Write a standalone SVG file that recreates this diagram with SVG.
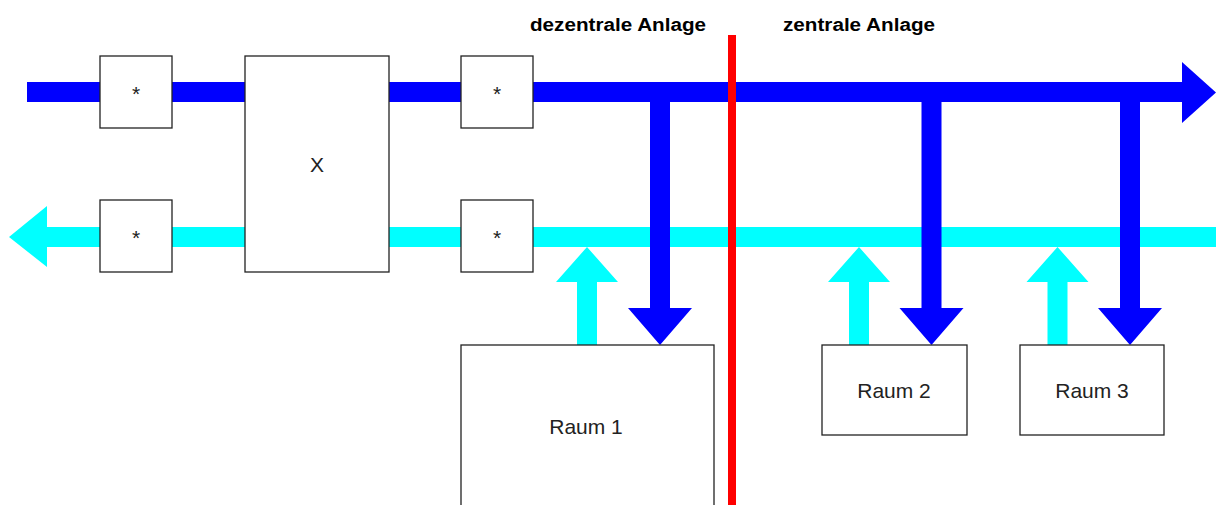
<svg xmlns="http://www.w3.org/2000/svg" width="1216" height="505" viewBox="0 0 1216 505">
<style>
.box{fill:#fff;stroke:#222;stroke-width:1.3}
.lbl{font-family:"Liberation Sans",Arial,sans-serif;font-size:21px;fill:#222;text-anchor:middle}
.hdr{font-family:"Liberation Sans",Arial,sans-serif;font-size:18px;font-weight:bold;fill:#000}
.cy{fill:#00ffff}
.bl{fill:#0000ff}
</style>
<rect width="1216" height="505" fill="#fff"/>
<g id="connectors">
  <path class="cy" d="M1216,227 L47,227 L47,206 L9,237 L47,267 L47,247 L1216,247 Z"/>
  <path class="cy" d="M577,345 L577,282 L556,282 L587,247 L618,282 L597,282 L597,345 Z"/>
  <path class="cy" d="M849,345 L849,282 L828,282 L859,247 L890,282 L869,282 L869,345 Z"/>
  <path class="cy" d="M1047.5,345 L1047.5,282 L1026.5,282 L1057.5,247 L1088.5,282 L1067.5,282 L1067.5,345 Z"/>
  <path class="bl" d="M27,82 L1182,82 L1182,62 L1216,92.5 L1182,123 L1182,102 L27,102 Z"/>
  <path class="bl" d="M650,92 L670,92 L670,308 L692,308 L660,345 L628,308 L650,308 Z"/>
  <path class="bl" d="M921.5,92 L941.5,92 L941.5,308 L963.5,308 L931.5,345 L899.5,308 L921.5,308 Z"/>
  <path class="bl" d="M1120,92 L1140,92 L1140,308 L1162,308 L1130,345 L1098,308 L1120,308 Z"/>
</g>
<g id="node-star1"><rect class="box" x="100" y="56" width="72" height="72"/><text class="lbl" x="136" y="101">*</text></g>
<g id="node-star2"><rect class="box" x="100" y="200" width="72" height="72"/><text class="lbl" x="136" y="245">*</text></g>
<g id="node-x"><rect class="box" x="245" y="56" width="144" height="216"/><text class="lbl" x="317" y="172">X</text></g>
<g id="node-star3"><rect class="box" x="461" y="56" width="72" height="72"/><text class="lbl" x="497" y="101">*</text></g>
<g id="node-star4"><rect class="box" x="461" y="200" width="72" height="72"/><text class="lbl" x="497" y="245">*</text></g>
<g id="node-raum1"><rect class="box" x="461" y="345" width="253" height="175"/><text class="lbl" x="586" y="434">Raum 1</text></g>
<g id="node-raum2"><rect class="box" x="822" y="345" width="145" height="90"/><text class="lbl" x="894" y="398">Raum 2</text></g>
<g id="node-raum3"><rect class="box" x="1020" y="345" width="144" height="90"/><text class="lbl" x="1092" y="398">Raum 3</text></g>
<rect id="separator" x="728" y="35" width="8" height="470" fill="#ff0000"/>
<text class="hdr" x="530" y="31" textLength="176" lengthAdjust="spacingAndGlyphs">dezentrale Anlage</text>
<text class="hdr" x="783" y="31" textLength="152" lengthAdjust="spacingAndGlyphs">zentrale Anlage</text>
</svg>
